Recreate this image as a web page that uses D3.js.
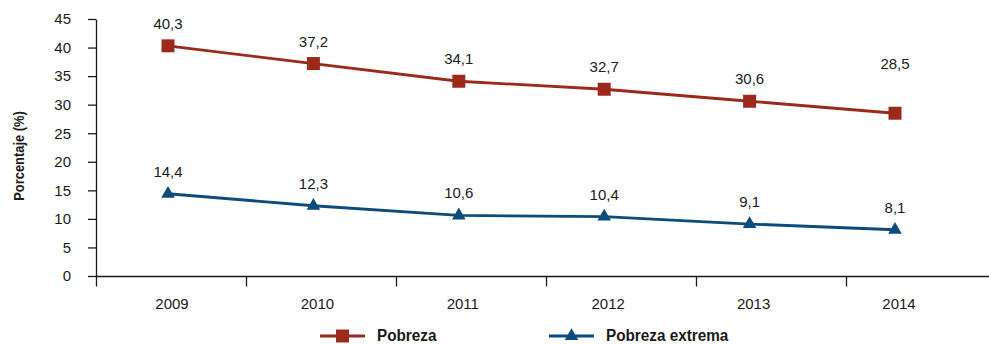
<!DOCTYPE html>
<html lang="es">
<head>
<meta charset="utf-8">
<script src="https://cdn.jsdelivr.net/npm/d3@7"></script>
<style>
  html, body { margin: 0; padding: 0; background: #fff; }
  svg { display: block; }
  text { font-family: "Liberation Sans", Arial, sans-serif; fill: #1a1a1a; }
  .condensed { font-weight: bold; }
</style>
</head>
<body>
<svg id="chart" width="989" height="344"></svg>
<script>
// Poverty rates, 2009–2014
const years = ["2009", "2010", "2011", "2012", "2013", "2014"];
const pobreza = [40.3, 37.2, 34.1, 32.7, 30.6, 28.5];
const pobrezaExtrema = [14.4, 12.3, 10.6, 10.4, 9.1, 8.1];
const yTicks = [0, 5, 10, 15, 20, 25, 30, 35, 40, 45];
const seriesNames = ["Pobreza", "Pobreza extrema"];

const colors = { "Pobreza": "#9c2a1c", "Pobreza extrema": "#0d4b7d" };

const es = d3.formatLocale({ decimal: ",", thousands: ".", grouping: [3], currency: ["", " €"] });
const fmt = es.format(".1f");

// horizontal squeeze that gives the bold face a condensed look
const NARROW = 0.9;

const svg = d3.select("#chart");
const W = 989;

const y = d3.scaleLinear().domain([0, 45]).range([276, 19]);
const xPt = d3.scalePoint().domain(years).range([168, 895]);
const xBand = d3.scaleBand().domain(years).range([96, 996]);

// Y axis
const yAxis = svg.append("g")
  .attr("transform", "translate(96,0)")
  .call(d3.axisLeft(y).tickValues(yTicks).tickSize(8).tickSizeOuter(0).tickPadding(17));
yAxis.select(".domain").attr("stroke", "#1a1a1a").attr("stroke-width", 1.3);
yAxis.selectAll(".tick line").attr("stroke", "#1a1a1a").attr("stroke-width", 1.3);
yAxis.selectAll(".tick text")
  .attr("font-size", 15).attr("font-family", "'Liberation Sans', Arial, sans-serif")
  .attr("fill", "#1a1a1a");

// Y axis title
svg.append("text")
  .attr("class", "condensed")
  .attr("transform", `translate(24,156) rotate(-90) scale(0.86,1)`)
  .attr("text-anchor", "middle")
  .attr("font-size", 15)
  .text("Porcentaje (%)");

// X axis line and category ticks
const y0 = Math.round(y(0)) + 0.5;
svg.append("line")
  .attr("x1", 96).attr("x2", W).attr("y1", y0).attr("y2", y0)
  .attr("stroke", "#1a1a1a").attr("stroke-width", 1.3);
svg.append("g").selectAll("line")
  .data(years)
  .join("line")
  .attr("x1", d => Math.round(xBand(d)) + 0.5)
  .attr("x2", d => Math.round(xBand(d)) + 0.5)
  .attr("y1", y0).attr("y2", y0 + 10)
  .attr("stroke", "#1a1a1a").attr("stroke-width", 1.3);
svg.append("g").selectAll("text")
  .data(years)
  .join("text")
  .attr("x", d => xPt(d) + 4)
  .attr("y", 309)
  .attr("text-anchor", "middle")
  .attr("font-size", 15)
  .text(d => d);

// Series
const series = [
  { name: "Pobreza", values: pobreza, symbol: d3.symbolSquare, size: 169 },
  { name: "Pobreza extrema", values: pobrezaExtrema, symbol: d3.symbolTriangle, size: 80 }
];

// extra lift for labels that sit higher above their point
const labelLift = { "Pobreza|2014": 27 };

const line = d3.line().x(d => xPt(d.year)).y(d => y(d.value));

series.forEach(s => {
  const pts = years.map((yr, i) => ({ year: yr, value: s.values[i] }));
  const g = svg.append("g");
  g.append("path")
    .datum(pts)
    .attr("d", line)
    .attr("fill", "none")
    .attr("stroke", colors[s.name])
    .attr("stroke-width", 2.8);
  g.selectAll("path.marker")
    .data(pts)
    .join("path")
    .attr("class", "marker")
    .attr("transform", d => `translate(${xPt(d.year)},${y(d.value)})`)
    .attr("d", d3.symbol(s.symbol, s.size))
    .attr("fill", colors[s.name]);
  g.selectAll("text")
    .data(pts)
    .join("text")
    .attr("x", d => xPt(d.year))
    .attr("y", d => y(d.value) - 17 - (labelLift[s.name + "|" + d.year] || 0))
    .attr("text-anchor", "middle")
    .attr("font-size", 15)
    .text(d => fmt(d.value));
});

// Legend
const legendX = [320, 549];
const leg = svg.append("g");
series.forEach((s, i) => {
  const lx = legendX[i];
  leg.append("line")
    .attr("x1", lx).attr("x2", lx + 45).attr("y1", 336).attr("y2", 336)
    .attr("stroke", colors[s.name]).attr("stroke-width", 2.8);
  leg.append("path")
    .attr("transform", `translate(${lx + 22.5},336)`)
    .attr("d", d3.symbol(s.symbol, s.size))
    .attr("fill", colors[s.name]);
  leg.append("text")
    .attr("class", "condensed")
    .attr("transform", `translate(${lx + 57},341) scale(${NARROW},1)`)
    .attr("font-size", 17)
    .text(seriesNames[i]);
});
</script>
</body>
</html>
